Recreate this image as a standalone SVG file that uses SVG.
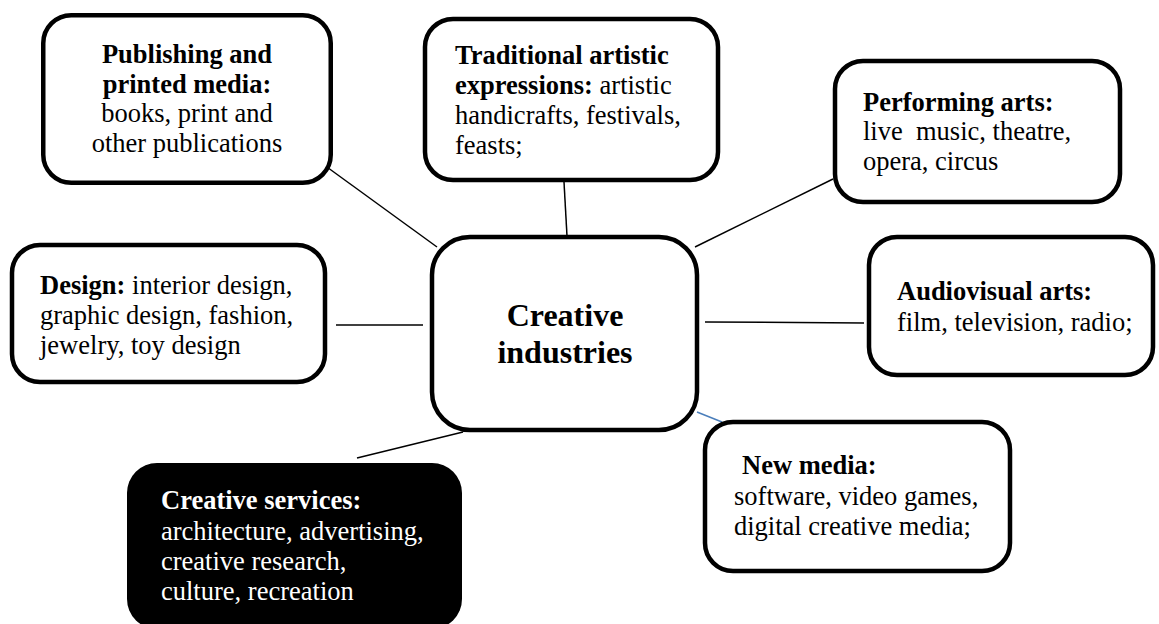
<svg xmlns="http://www.w3.org/2000/svg" width="1159" height="624" viewBox="0 0 1159 624">
  <style>
    .box { fill: #ffffff; stroke: #000000; stroke-width: 4.5; }
    .dark { fill: #000000; stroke: none; }
    .link { stroke: #000000; stroke-width: 1.5; fill: none; }
    .link-blue { stroke: #4a7ebb; stroke-width: 1.5; fill: none; }
    text { font-family: "Liberation Serif", "Times New Roman", serif; font-size: 26.5px; fill: #000000; }
    .b { font-weight: bold; }
    .mid { text-anchor: middle; }
    .hub { font-size: 32px; font-weight: bold; }
    .light { fill: #ffffff; }
  </style>

  <rect width="1159" height="624" fill="#ffffff"/>

  <!-- connectors from the hub to each category -->
  <g id="connectors">
    <line class="link" x1="320" y1="162" x2="437" y2="247"/>
    <line class="link" x1="564" y1="182" x2="567" y2="236"/>
    <line class="link" x1="695" y1="247" x2="833" y2="179"/>
    <line class="link" x1="336" y1="325" x2="423" y2="325"/>
    <line class="link" x1="705" y1="322" x2="864" y2="323"/>
    <line class="link" x1="357" y1="458" x2="463" y2="432"/>
    <line class="link-blue" x1="697" y1="412" x2="722" y2="422"/>
  </g>

  <g id="publishing">
    <rect class="box" x="43.25" y="15.25" width="287.5" height="167.5" rx="28"/>
    <text class="mid" x="187" y="63"><tspan class="b">Publishing and</tspan></text>
    <text class="mid" x="187" y="93"><tspan class="b">printed media:</tspan></text>
    <text class="mid" x="187" y="122">books, print and</text>
    <text class="mid" x="187" y="152">other publications</text>
  </g>

  <g id="traditional">
    <rect class="box" x="425" y="19" width="293" height="161" rx="28"/>
    <text x="455" y="64"><tspan class="b">Traditional artistic</tspan></text>
    <text x="455" y="94"><tspan class="b">expressions:</tspan> artistic</text>
    <text x="455" y="124">handicrafts, festivals,</text>
    <text x="455" y="154">feasts;</text>
  </g>

  <g id="performing">
    <rect class="box" x="835" y="61" width="285" height="141" rx="28"/>
    <text x="863" y="111"><tspan class="b">Performing arts:</tspan></text>
    <text x="863" y="140">live&#160; music, theatre,</text>
    <text x="863" y="170">opera, circus</text>
  </g>

  <g id="design">
    <rect class="box" x="12" y="245" width="313" height="137" rx="28"/>
    <text x="40" y="294"><tspan class="b">Design:</tspan> interior design,</text>
    <text x="40" y="324">graphic design, fashion,</text>
    <text x="40" y="354">jewelry, toy design</text>
  </g>

  <g id="hub">
    <rect class="box" x="432" y="237" width="265" height="193" rx="38"/>
    <text class="mid hub" x="565" y="326">Creative</text>
    <text class="mid hub" x="565" y="363">industries</text>
  </g>

  <g id="audiovisual">
    <rect class="box" x="869" y="237" width="284" height="138" rx="28"/>
    <text x="897" y="300"><tspan class="b">Audiovisual arts:</tspan></text>
    <text x="897" y="331">film, television, radio;</text>
  </g>

  <g id="new-media">
    <rect class="box" x="705" y="422" width="305" height="149" rx="28"/>
    <text x="742" y="474"><tspan class="b">New media:</tspan></text>
    <text x="734" y="505">software, video games,</text>
    <text x="734" y="535">digital creative media;</text>
  </g>

  <g id="creative-services">
    <rect class="dark" x="127" y="463" width="335" height="166" rx="30"/>
    <text class="light" x="161" y="509"><tspan class="b">Creative services:</tspan></text>
    <text class="light" x="161" y="540">architecture, advertising,</text>
    <text class="light" x="161" y="570">creative research,</text>
    <text class="light" x="161" y="600">culture, recreation</text>
  </g>
</svg>
